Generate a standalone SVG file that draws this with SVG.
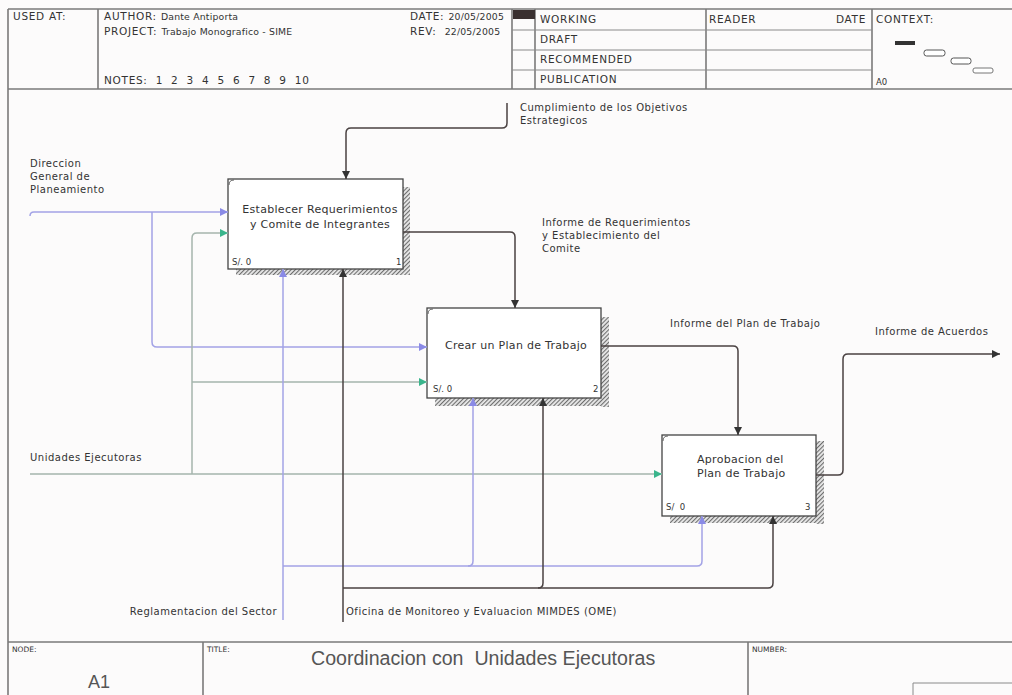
<svg xmlns="http://www.w3.org/2000/svg" width="1012" height="695" viewBox="0 0 1012 695">
<style>
text{font-family:"DejaVu Sans","Liberation Sans",Arial,sans-serif;fill:#333}
.hl{font-size:10.5px;letter-spacing:0.7px}
.hv{font-size:9.3px;letter-spacing:0.2px}
.sm{font-size:8.5px}
.lbl{font-size:10px;letter-spacing:0.5px}
.bx{font-size:11px;letter-spacing:0.3px}
.frame{stroke:#7a7a7a;stroke-width:1.6;fill:none}
.thin{stroke:#8a8a8a;stroke-width:1;fill:none}
.box{fill:#fff;stroke:#444;stroke-width:1.3}
.shadow{fill:url(#hatch)}
.dk{stroke:#4a4242;stroke-width:1.5;fill:none}
.lav{stroke:#a3a3e6;stroke-width:1.5;fill:none}
.tl{stroke:#a5b5ad;stroke-width:1.5;fill:none}
</style>
<defs>
<pattern id="hatch" width="3" height="3" patternUnits="userSpaceOnUse" patternTransform="rotate(45)">
<rect width="3" height="3" fill="#e8e8e8"/>
<line x1="0.5" y1="0" x2="0.5" y2="3" stroke="#6e6e6e" stroke-width="1.2"/>
</pattern>
<marker id="ad" viewBox="0 0 10 10" refX="10" refY="5" markerWidth="8" markerHeight="8" markerUnits="userSpaceOnUse" orient="auto"><path d="M0,0 L10,5 L0,10 z" fill="#333"/></marker>
<marker id="al" viewBox="0 0 10 10" refX="10" refY="5" markerWidth="8" markerHeight="8" markerUnits="userSpaceOnUse" orient="auto"><path d="M0,0 L10,5 L0,10 z" fill="#8a8ae6"/></marker>
<marker id="at" viewBox="0 0 10 10" refX="10" refY="5" markerWidth="8" markerHeight="8" markerUnits="userSpaceOnUse" orient="auto"><path d="M0,0 L10,5 L0,10 z" fill="#3ab58c"/></marker>
</defs>
<rect width="1012" height="695" fill="#fcfbfb"/>

<g id="header">
<line class="frame" x1="8" y1="9" x2="1012" y2="9"/>
<line class="frame" x1="8" y1="89" x2="1012" y2="89"/>
<line class="frame" x1="8" y1="9" x2="8" y2="695"/>
<line class="frame" x1="98" y1="9" x2="98" y2="89"/>
<line class="frame" x1="512" y1="9" x2="512" y2="89"/>
<line class="frame" x1="535" y1="9" x2="535" y2="89"/>
<line class="frame" x1="706" y1="9" x2="706" y2="89"/>
<line class="frame" x1="872" y1="9" x2="872" y2="89"/>
<line class="thin" x1="512" y1="30" x2="872" y2="30"/>
<line class="thin" x1="512" y1="50" x2="872" y2="50"/>
<line class="thin" x1="512" y1="70" x2="872" y2="70"/>
<rect x="513" y="10" width="22" height="9" fill="#3a3030"/>
<text class="hl" x="13" y="20">USED AT:</text>
<text class="hl" x="104" y="20">AUTHOR: <tspan class="hv">Dante Antiporta</tspan></text>
<text class="hl" x="104" y="35">PROJECT: <tspan class="hv">Trabajo Monografico - SIME</tspan></text>
<text class="hl" x="104" y="84" xml:space="preserve">NOTES:  1  2  3  4  5  6  7  8  9  10</text>
<text class="hl" x="410" y="20">DATE: <tspan class="hv">20/05/2005</tspan></text>
<text class="hl" x="410" y="35" xml:space="preserve">REV:  <tspan class="hv">22/05/2005</tspan></text>
<text class="hl" x="540" y="23">WORKING</text>
<text class="hl" x="540" y="43">DRAFT</text>
<text class="hl" x="540" y="63">RECOMMENDED</text>
<text class="hl" x="540" y="83">PUBLICATION</text>
<text class="hl" x="709" y="23">READER</text>
<text class="hl" x="866" y="23" text-anchor="end">DATE</text>
<text class="hl" x="876" y="23">CONTEXT:</text>
<text class="sm" x="876" y="85">A0</text>
<rect x="895" y="41" width="20" height="4" fill="#333"/>
<rect x="924" y="50" width="21" height="6" rx="2.5" fill="#fff" stroke="#555" stroke-width="1"/>
<rect x="951" y="58" width="20" height="6" rx="2.5" fill="#fff" stroke="#555" stroke-width="1"/>
<rect x="973" y="68" width="20" height="5" rx="2" fill="#fff" stroke="#777" stroke-width="1"/>
</g>

<g id="footer">
<line class="frame" x1="8" y1="642" x2="1012" y2="642"/>
<line class="frame" x1="203" y1="642" x2="203" y2="695"/>
<line class="frame" x1="748" y1="642" x2="748" y2="695"/>
<text x="12" y="652" style="font-size:7.5px">NODE:</text>
<text x="207" y="652" style="font-size:7.5px">TITLE:</text>
<text x="752" y="652" style="font-size:7.5px">NUMBER:</text>
<text x="88" y="688" style="font-family:'Liberation Sans',Arial,sans-serif;font-size:18px;fill:#555">A1</text>
<text x="311" y="665" style="font-family:'Liberation Sans',Arial,sans-serif;font-size:19.6px;fill:#555" xml:space="preserve">Coordinacion con  Unidades Ejecutoras</text>
<path d="M913,695 V683 H1012" class="thin" stroke="#666"/>
</g>

<g id="node1">
<rect class="shadow" x="403" y="187" width="7" height="88"/>
<rect class="shadow" x="236" y="269" width="174" height="6"/>
<rect class="box" x="228" y="179" width="175" height="90"/>
<path d="M229,185 Q229,180 234,180" stroke="#666" fill="none" stroke-width="1"/>
<text class="bx" x="320" y="213" text-anchor="middle">Establecer Requerimientos</text>
<text class="bx" x="320" y="228" text-anchor="middle">y Comite de Integrantes</text>
<text class="sm" x="232" y="265">S/. 0</text>
<text class="sm" x="396" y="265">1</text>
</g>

<g id="node2">
<rect class="shadow" x="601" y="317" width="8" height="90"/>
<rect class="shadow" x="435" y="398" width="174" height="8"/>
<rect class="box" x="427" y="308" width="174" height="90"/>
<path d="M428,314 Q428,309 433,309" stroke="#666" fill="none" stroke-width="1"/>
<text class="bx" x="516" y="349" text-anchor="middle">Crear un Plan de Trabajo</text>
<text class="sm" x="433" y="392">S/. 0</text>
<text class="sm" x="593" y="392">2</text>
</g>

<g id="node3">
<rect class="shadow" x="816" y="441" width="8" height="83"/>
<rect class="shadow" x="670" y="516" width="154" height="7"/>
<rect class="box" x="662" y="435" width="154" height="81"/>
<path d="M663,441 Q663,436 668,436" stroke="#666" fill="none" stroke-width="1"/>
<text class="bx" x="697" y="463">Aprobacion del</text>
<text class="bx" x="697" y="477">Plan de Trabajo</text>
<text class="sm" x="666" y="510" xml:space="preserve">S/  0</text>
<text class="sm" x="805" y="510">3</text>
</g>

<g id="connectors">
<path class="dk" d="M507,103 V123 Q507,128 502,128 H351 Q346,128 346,133 V179" marker-end="url(#ad)"/>
<path class="dk" d="M403,232 H510 Q515,232 515,237 V308" marker-end="url(#ad)"/>
<path class="dk" d="M601,346 H733 Q738,346 738,351 V435" marker-end="url(#ad)"/>
<path class="dk" d="M816,475 H838 Q843,475 843,470 V359 Q843,354 848,354 H1000" marker-end="url(#ad)"/>
<path class="lav" d="M30,216 Q30,212 34,212 H228" marker-end="url(#al)"/>
<path class="lav" d="M152,212 V342 Q152,347 157,347 H427" marker-end="url(#al)"/>
<path class="tl" d="M30,474 H662" marker-end="url(#at)"/>
<path class="tl" d="M192,474 V238 Q192,233 197,233 H228" marker-end="url(#at)"/>
<path class="tl" d="M192,382 H427" marker-end="url(#at)"/>
<path class="lav" d="M283,620 V269" marker-end="url(#al)"/>
<path class="lav" d="M283,566 H468 Q473,566 473,561 V398" marker-end="url(#al)"/>
<path class="lav" d="M468,566 H697 Q702,566 702,561 V516" marker-end="url(#al)"/>
<path class="dk" d="M343,622 V269" marker-end="url(#ad)"/>
<path class="dk" d="M343,588 H538 Q543,588 543,583 V398" marker-end="url(#ad)"/>
<path class="dk" d="M538,588 H768 Q773,588 773,583 V516" marker-end="url(#ad)"/>
<text class="lbl" x="520" y="111">Cumplimiento de los Objetivos</text>
<text class="lbl" x="520" y="124">Estrategicos</text>
<text class="lbl" x="542" y="226">Informe de Requerimientos</text>
<text class="lbl" x="542" y="239">y Establecimiento del</text>
<text class="lbl" x="542" y="252">Comite</text>
<text class="lbl" x="670" y="327">Informe del Plan de Trabajo</text>
<text class="lbl" x="875" y="335">Informe de Acuerdos</text>
<text class="lbl" x="30" y="167">Direccion</text>
<text class="lbl" x="30" y="180">General de</text>
<text class="lbl" x="30" y="193">Planeamiento</text>
<text class="lbl" x="30" y="461">Unidades Ejecutoras</text>
<text class="lbl" x="277" y="615" text-anchor="end">Reglamentacion del Sector</text>
<text class="lbl" x="346" y="615">Oficina de Monitoreo y Evaluacion MIMDES (OME)</text>
</g>
</svg>
